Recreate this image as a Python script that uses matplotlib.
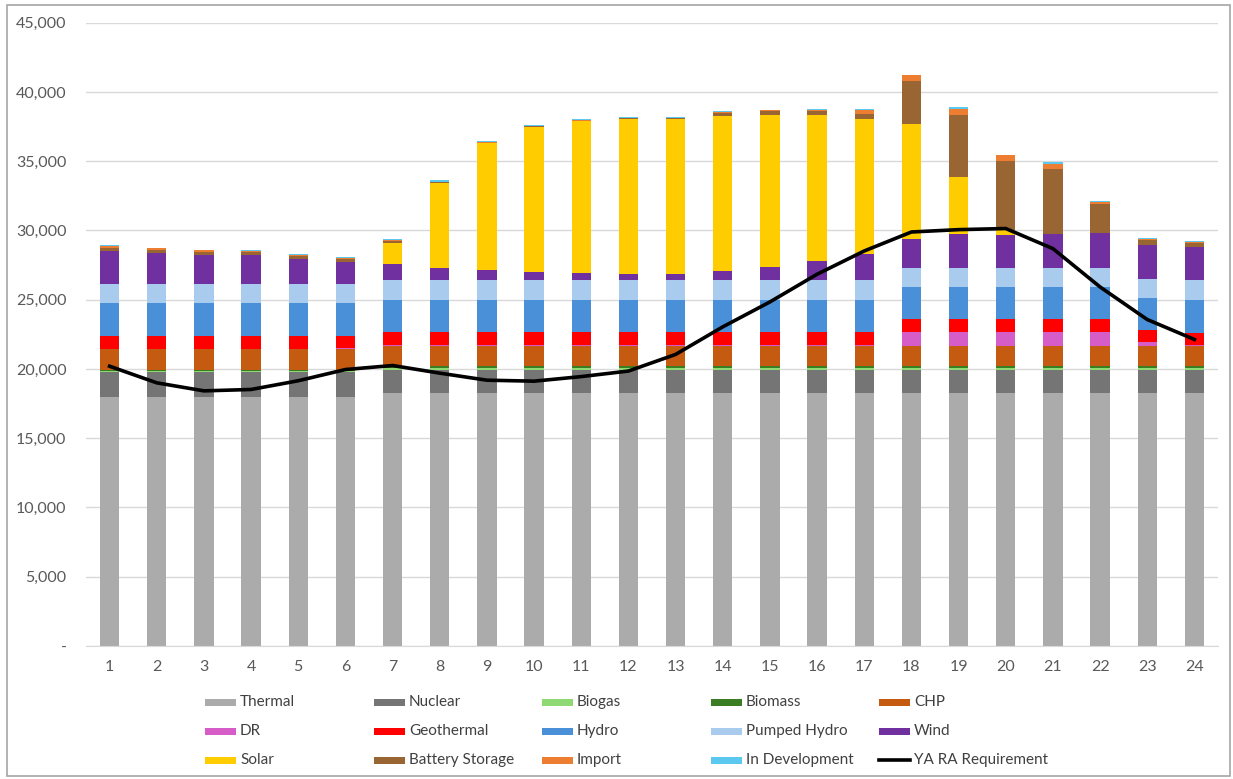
import matplotlib
matplotlib.use("Agg")
import matplotlib.pyplot as plt
from matplotlib.patches import Rectangle
from matplotlib.lines import Line2D
from matplotlib.ticker import FuncFormatter

plt.rcParams['font.family'] = ['Lato', 'DejaVu Sans']

hours = list(range(1, 25))

thermal = [18000] * 6 + [18250] * 18
nuclear = [1800] * 6 + [1700] * 18
biogas = [60] * 6 + [90] * 18
biomass = [90] * 6 + [150] * 18
chp = [1500] * 6 + [1450] * 18
dr = [0, 0, 0, 0, 0, 60] + [60] * 11 + [1000] * 5 + [280, 60]
geothermal = [940] * 5 + [880] + [1000] * 11 + [1000] * 5 + [880, 910]
hydro = [2380] * 6 + [2310] * 11 + [2290] * 5 + [2290, 2400]
pumped_hydro = [1400] * 6 + [1390] * 11 + [1390] * 5 + [1440, 1400]
wind = [2350, 2210, 2090, 2040, 1800, 1560, 1150, 880, 720, 620, 550, 470,
        470, 700, 980, 1370, 1930, 2090, 2410, 2330, 2460, 2530, 2450, 2400]
solar = [0, 0, 0, 0, 0, 0, 1510, 6160, 9180, 10460, 10940, 11210,
         11210, 11170, 10960, 10570, 9740, 8250, 4130, 360, 0, 0, 0, 0]
battery = [240, 220, 200, 200, 170, 200, 200, 50, 50, 40, 40, 40,
           40, 230, 270, 300, 360, 3110, 4450, 4980, 4690, 2040, 310, 290]
imports = [140, 100, 100, 100, 100, 100, 80, 30, 30, 20, 20, 20,
           20, 60, 60, 60, 290, 450, 480, 440, 360, 170, 120, 70]
in_dev = [40, 60, 60, 60, 60, 60, 40, 100, 80, 60, 80, 40,
          40, 40, 40, 40, 40, 40, 120, 40, 90, 80, 60, 40]
ra_requirement = [20200, 19000, 18420, 18520, 19150, 19960, 20250, 19700,
                  19190, 19120, 19450, 19850, 21050, 23040, 24840, 26840,
                  28520, 29890, 30060, 30140, 28690, 25920, 23570, 22130]

series = [
    ("Thermal", thermal, "#ABABAB"),
    ("Nuclear", nuclear, "#757575"),
    ("Biogas", biogas, "#8ED973"),
    ("Biomass", biomass, "#3A7D22"),
    ("CHP", chp, "#C55A11"),
    ("DR", dr, "#D65DC8"),
    ("Geothermal", geothermal, "#FF0000"),
    ("Hydro", hydro, "#4A90D9"),
    ("Pumped Hydro", pumped_hydro, "#A9CBED"),
    ("Wind", wind, "#7030A0"),
    ("Solar", solar, "#FFCC00"),
    ("Battery Storage", battery, "#996633"),
    ("Import", imports, "#ED7D31"),
    ("In Development", in_dev, "#5BC8F0"),
]

W, H = 1233, 779
fig = plt.figure(figsize=(W / 100, H / 100), dpi=100)
ax = fig.add_axes([86 / W, 1 - 646 / H, (1218 - 86) / W, (646 - 22.7) / H])

bottom = [0] * 24
for name, vals, col in series:
    ax.bar(hours, vals, width=0.41, bottom=bottom, color=col, linewidth=0, zorder=2)
    bottom = [b + v for b, v in zip(bottom, vals)]

ax.plot(hours, ra_requirement, color="black", lw=2.6, zorder=3)

ax.set_xlim(0.5, 24.5)
ax.set_ylim(0, 45000)
ax.set_yticks(range(0, 45001, 5000))
ax.set_xticks(hours)
ax.yaxis.set_major_formatter(FuncFormatter(lambda v, p: "-" if v == 0 else f"{int(v):,}"))
ax.grid(axis="y", color="#D9D9D9", lw=1, zorder=0)
ax.set_axisbelow(True)
for s in ["top", "right", "left"]:
    ax.spines[s].set_visible(False)
ax.spines["bottom"].set_color("#D9D9D9")
ax.tick_params(axis="both", length=0, labelsize=11.5, colors="#595959")
ax.tick_params(axis="y", pad=14)
ax.tick_params(axis="x", pad=10)

# legend: 3 rows x 5 columns, row-major like the original
entries = [(n, c) for n, _, c in series] + [("YA RA Requirement", None)]
col_x = [205, 374, 542, 711, 879]
row_y = [702, 731, 760]
for i, (name, col) in enumerate(entries):
    x0 = col_x[i % 5]
    y0 = row_y[i // 5]
    if col is None:
        fig.add_artist(Line2D([x0 / W, (x0 + 31) / W], [1 - y0 / H, 1 - y0 / H],
                              color="black", lw=2.6, transform=fig.transFigure))
    else:
        fig.add_artist(Rectangle((x0 / W, 1 - (y0 + 3.5) / H), 31 / W, 7 / H,
                                 color=col, transform=fig.transFigure, lw=0))
    fig.text((x0 + 35) / W, 1 - y0 / H, name, fontsize=11, color="#404040",
             va="center", ha="left")

fig.add_artist(Rectangle((7 / W, 1 - 776 / H), (1230 - 7) / W, (776 - 5) / H,
                         fill=False, edgecolor="#A6A6A6", lw=1.2,
                         transform=fig.transFigure))

fig.savefig("out.png", dpi=100)
